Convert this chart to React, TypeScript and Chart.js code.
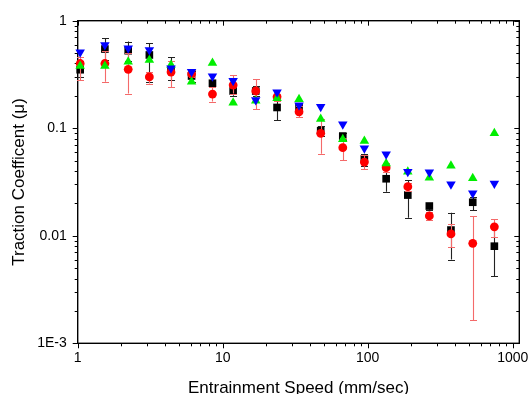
import React, { useEffect, useRef } from 'react';
import { Chart, registerables } from 'chart.js';

Chart.register(...registerables);

// Entrainment speed (mm/sec)
const speeds = [1.04, 1.54, 2.23, 3.12, 4.4, 6.1, 8.5, 11.8, 16.9, 23.7, 33.6, 47.4, 67.3, 94.8, 134, 189, 266, 375, 530, 747];

// Traction coefficients
const blackMu = [0.35, 0.545, 0.526, 0.48, 0.348, 0.306, 0.262, 0.222, 0.222, 0.156, 0.158, 0.095, 0.0846, 0.0517, 0.0339, 0.0239, 0.0189, 0.0113, 0.0205, 0.008];
const blackLow = [0.3, 0.43, 0.42, 0.27, 0.28, 0.27, 0.24, 0.2, 0.2, 0.119, 0.145, 0.085, 0.078, 0.045, 0.0257, 0.0147, 0.0175, 0.006, 0.0172, 0.0042];
const blackHigh = [0.42, 0.69, 0.64, 0.62, 0.46, 0.34, 0.28, 0.245, 0.245, 0.19, 0.17, 0.105, 0.09, 0.058, 0.0394, 0.033, 0.02, 0.0164, 0.0227, 0.0118];

const redMu = [0.4, 0.4, 0.353, 0.3, 0.333, 0.32, 0.208, 0.252, 0.222, 0.196, 0.142, 0.0897, 0.066, 0.0485, 0.043, 0.0286, 0.0153, 0.0104, 0.0085, 0.0121];
const redLow = [0.28, 0.27, 0.21, 0.26, 0.24, 0.3, 0.177, 0.21, 0.15, 0.18, 0.126, 0.058, 0.0506, 0.0415, 0.039, 0.026, 0.0139, 0.0078, 0.00164, 0.00966];
const redHigh = [0.46, 0.52, 0.5, 0.33, 0.42, 0.35, 0.24, 0.31, 0.285, 0.21, 0.16, 0.122, 0.081, 0.0562, 0.047, 0.0311, 0.0168, 0.0128, 0.0153, 0.0143];

const greenMu = [0.38, 0.38, 0.415, 0.43, 0.387, 0.271, 0.404, 0.173, 0.18, 0.19, 0.186, 0.122, 0.079, 0.076, 0.0471, 0.0394, 0.0347, 0.0448, 0.0342, 0.0897];
const blueMu = [0.51, 0.594, 0.554, 0.533, 0.361, 0.336, 0.304, 0.277, 0.183, 0.216, 0.164, 0.158, 0.109, 0.065, 0.0572, 0.0394, 0.0389, 0.0301, 0.0248, 0.0307];

const xTickValues = [1, 10, 100, 1000];
const xTickLabels = ['1', '10', '100', '1000'];
const yTickValues = [1, 0.1, 0.01, 0.001];
const yTickLabels = ['1', '0.1', '0.01', '1E-3'];

const FONT = "'Liberation Sans', Arial, Helvetica, sans-serif";

function labelFor(v: number, values: number[], labels: string[]): string {
  for (let i = 0; i < values.length; i++) {
    if (Math.abs(v - values[i]) / values[i] < 1e-6) return labels[i];
  }
  return '';
}

const errorBarPlugin = {
  id: 'errorBars',
  beforeDatasetDraw(chart: any, args: any) {
    const ds: any = chart.data.datasets[args.index];
    if (!ds.errLow) return;
    const { ctx, scales } = chart;
    const xs = scales.x;
    const ys = scales.y;
    ctx.save();
    ctx.strokeStyle = ds.errColor;
    ctx.lineWidth = 1.1;
    ds.data.forEach((p: any, i: number) => {
      const px = Math.round(xs.getPixelForValue(p.x)) + 0.5;
      const yl = ys.getPixelForValue(ds.errLow[i]);
      const yh = ys.getPixelForValue(ds.errHigh[i]);
      ctx.beginPath();
      ctx.moveTo(px, yl);
      ctx.lineTo(px, yh);
      ctx.moveTo(px - 3.5, Math.round(yl) + 0.5);
      ctx.lineTo(px + 3.5, Math.round(yl) + 0.5);
      ctx.moveTo(px - 3.5, Math.round(yh) + 0.5);
      ctx.lineTo(px + 3.5, Math.round(yh) + 0.5);
      ctx.stroke();
    });
    ctx.restore();
  },
};

const framePlugin = {
  id: 'frame',
  beforeDatasetsDraw(chart: any) {
    const { ctx, chartArea: a, scales } = chart;
    const xs = scales.x;
    const ys = scales.y;
    ctx.save();
    ctx.strokeStyle = '#000';
    ctx.lineWidth = 1;
    const line = (x1: number, y1: number, x2: number, y2: number) => {
      ctx.beginPath();
      ctx.moveTo(x1, y1);
      ctx.lineTo(x2, y2);
      ctx.stroke();
    };
    for (let d = 0; d <= 3; d++) {
      for (let m = 1; m <= 9; m++) {
        const v = m * Math.pow(10, d);
        if (v > xs.max) break;
        const px = Math.round(xs.getPixelForValue(v)) + 0.5;
        const len = m === 1 ? 5 : 3;
        line(px, a.bottom, px, a.bottom + len);
        line(px, a.top, px, a.top + len);
      }
    }
    for (let d = -3; d <= 0; d++) {
      for (let m = 1; m <= 9; m++) {
        const v = m * Math.pow(10, d);
        if (v > ys.max * 1.0001) break;
        const py = Math.round(ys.getPixelForValue(v)) + 0.5;
        const len = m === 1 ? 5 : 3;
        line(a.left - len, py, a.left, py);
        line(a.right - len, py, a.right, py);
      }
    }
    ctx.lineWidth = 1.4;
    ctx.strokeRect(a.left, a.top, a.right - a.left, a.bottom - a.top);
    ctx.restore();
  },
};

export default function App() {
  const ref = useRef<HTMLCanvasElement>(null);
  useEffect(() => {
    document.body.style.margin = '0';
    const mk = (arr: number[]) => speeds.map((x, i) => ({ x, y: arr[i] }));
    const chart = new Chart(ref.current as HTMLCanvasElement, {
      type: 'scatter',
      data: {
        datasets: [
          {
            label: 'black',
            data: mk(blackMu),
            pointStyle: 'rect',
            pointRadius: 5.4,
            backgroundColor: '#000000',
            borderColor: '#000000',
            borderWidth: 0,
            order: 4,
            clip: false,
            errLow: blackLow,
            errHigh: blackHigh,
            errColor: '#222222',
          } as any,
          {
            label: 'red',
            data: mk(redMu),
            pointStyle: 'circle',
            pointRadius: 4.4,
            backgroundColor: '#ff0000',
            borderColor: '#ff0000',
            borderWidth: 0,
            order: 3,
            clip: false,
            errLow: redLow,
            errHigh: redHigh,
            errColor: '#f46a6a',
          } as any,
          {
            label: 'green',
            data: mk(greenMu),
            pointStyle: 'triangle',
            pointRadius: 5.5,
            backgroundColor: '#00ee00',
            borderColor: '#00ee00',
            borderWidth: 0,
            order: 2,
            clip: false,
          } as any,
          {
            label: 'blue',
            data: mk(blueMu),
            pointStyle: 'triangle',
            rotation: 180,
            pointRadius: 5.5,
            backgroundColor: '#0000ff',
            borderColor: '#0000ff',
            borderWidth: 0,
            order: 1,
            clip: false,
          } as any,
        ],
      },
      options: {
        animation: false,
        responsive: false,
        devicePixelRatio: 1,
        layout: { padding: { top: 20.7, right: 9.7, left: 0, bottom: 0 } },
        plugins: { legend: { display: false }, tooltip: { enabled: false } },
        scales: {
          x: {
            type: 'logarithmic',
            position: 'bottom',
            min: 1,
            max: 1110,
            grid: { display: false, drawTicks: false },
            border: { display: false },
            ticks: {
              autoSkip: false,
              maxRotation: 0,
              padding: 6,
              color: '#000',
              font: { family: FONT, size: 14 },
              callback: (v: any) => labelFor(Number(v), xTickValues, xTickLabels),
            },
            title: {
              display: true,
              text: 'Entrainment Speed (mm/sec)',
              color: '#000',
              font: { family: FONT, size: 17, lineHeight: 1 },
              padding: { top: 0, bottom: -2.5 },
            },
            afterFit: (s: any) => {
              s.height = 50.7;
            },
          } as any,
          y: {
            type: 'logarithmic',
            position: 'left',
            min: 0.001,
            max: 1,
            grid: { display: false, drawTicks: false },
            border: { display: false },
            ticks: {
              autoSkip: false,
              padding: 11,
              color: '#000',
              font: { family: FONT, size: 14 },
              callback: (v: any) => labelFor(Number(v), yTickValues, yTickLabels),
            },
            title: {
              display: true,
              text: 'Traction Coefficent (\u03bc)',
              color: '#000',
              font: { family: FONT, size: 17, lineHeight: 1 },
              padding: { top: 10.5, bottom: 0 },
            },
            afterFit: (s: any) => {
              s.width = 77.7;
            },
          } as any,
        },
      },
      plugins: [framePlugin, errorBarPlugin],
    } as any);
    return () => chart.destroy();
  }, []);
  return (
    <div style={{ width: 529, height: 394 }}>
      <canvas ref={ref} width={529} height={394} style={{ display: 'block' }} />
    </div>
  );
}
